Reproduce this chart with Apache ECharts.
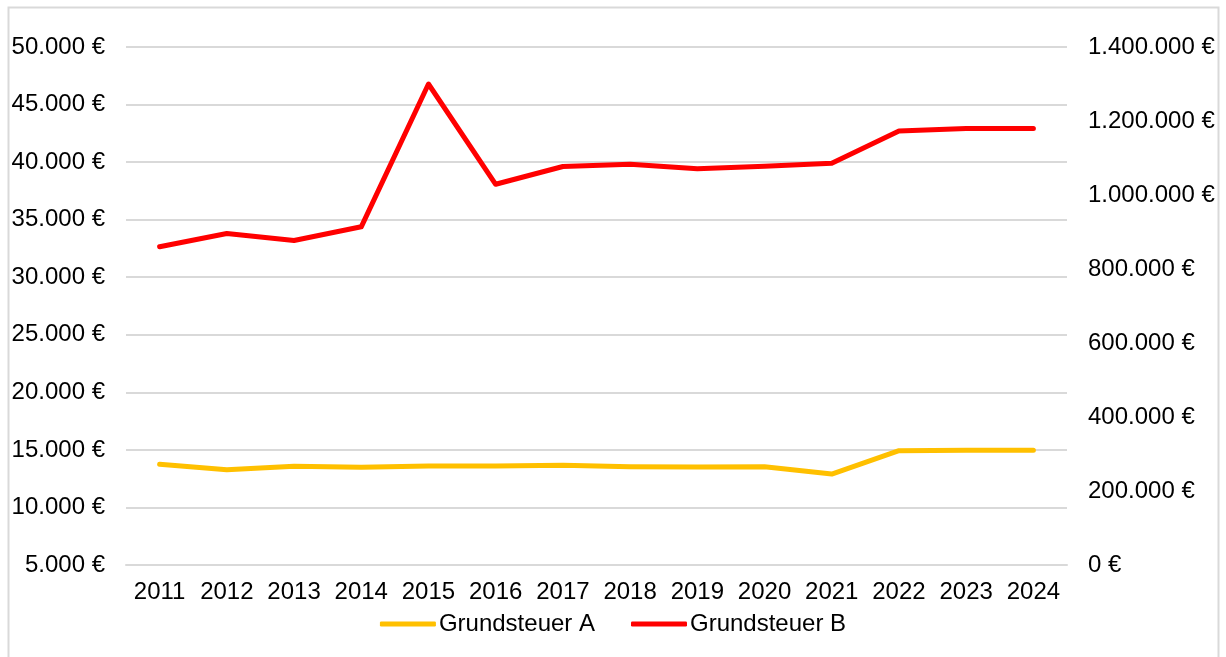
<!DOCTYPE html>
<html>
<head>
<meta charset="utf-8">
<script src="https://cdn.jsdelivr.net/npm/echarts@6/dist/echarts.min.js"></script>
<style>
  html, body { margin: 0; padding: 0; background: #fff; }
  #chart { width: 1226px; height: 657px; }
</style>
</head>
<body>
<div id="chart"></div>
<script>
var years = ['2011', '2012', '2013', '2014', '2015', '2016', '2017', '2018', '2019', '2020', '2021', '2022', '2023', '2024'];
// Grundsteuer A (linke Achse)
var grundsteuerA = [13750, 13280, 13570, 13490, 13600, 13600, 13660, 13540, 13510, 13540, 12900, 14930, 14960, 14960];
// Grundsteuer B (rechte Achse)
var grundsteuerB = [860000, 896000, 877000, 914000, 1300000, 1029000, 1077000, 1083000, 1071000, 1078000, 1086000, 1173000, 1180000, 1180000];

var textColor = '#000';
var fontName = '"Liberation Sans", Arial, sans-serif';
var fontSize = 24;

// Tausenderpunkt + Euro
function euro(v) {
    var s = String(Math.round(v)).replace(/\B(?=(\d{3})+(?!\d))/g, '.');
    return s + ' €';
}

var chart = echarts.init(document.getElementById('chart'));

var option = {
    backgroundColor: '#fff',
    textStyle: { fontFamily: fontName },
    graphic: [{
        type: 'rect',
        shape: { x: 8.5, y: 7.5, width: 1210, height: 700 },
        style: { fill: 'none', stroke: '#d9d9d9', lineWidth: 2 },
        silent: true
    }],
    grid: { left: 126, right: 159, top: 47, bottom: 92 },
    legend: {
        bottom: 16,
        left: 'center',
        icon: 'roundRect',
        itemWidth: 56,
        itemHeight: 5,
        itemGap: 36,
        textStyle: { color: textColor, fontSize: fontSize, fontFamily: fontName, padding: [0, 0, 0, -2] },
        data: ['Grundsteuer A', 'Grundsteuer B']
    },
    xAxis: {
        type: 'category',
        data: years,
        boundaryGap: true,
        axisLine: { show: true, lineStyle: { color: '#d9d9d9', width: 2 } },
        axisTick: { show: false },
        axisLabel: { color: textColor, fontSize: fontSize, margin: 15, interval: 0, fontFamily: fontName }
    },
    yAxis: [{
        type: 'value',
        position: 'left',
        min: 5000,
        max: 50000,
        interval: 5000,
        axisLine: { show: false },
        axisTick: { show: false },
        splitLine: { lineStyle: { color: '#d9d9d9', width: 2 } },
        axisLabel: { color: textColor, fontSize: fontSize, margin: 21, fontFamily: fontName, formatter: euro }
    }, {
        type: 'value',
        position: 'right',
        min: 0,
        max: 1400000,
        interval: 200000,
        axisLine: { show: false },
        axisTick: { show: false },
        splitLine: { show: false },
        axisLabel: { color: textColor, fontSize: fontSize, margin: 21, fontFamily: fontName, formatter: euro }
    }],
    series: [{
        name: 'Grundsteuer A',
        type: 'line',
        yAxisIndex: 0,
        data: grundsteuerA,
        symbol: 'none',
        itemStyle: { color: '#ffc000' },
        lineStyle: { color: '#ffc000', width: 5, cap: 'round', join: 'round' }
    }, {
        name: 'Grundsteuer B',
        type: 'line',
        yAxisIndex: 1,
        data: grundsteuerB,
        symbol: 'none',
        itemStyle: { color: '#ff0000' },
        lineStyle: { color: '#ff0000', width: 5, cap: 'round', join: 'round' }
    }]
};

chart.setOption(option);
</script>
</body>
</html>
